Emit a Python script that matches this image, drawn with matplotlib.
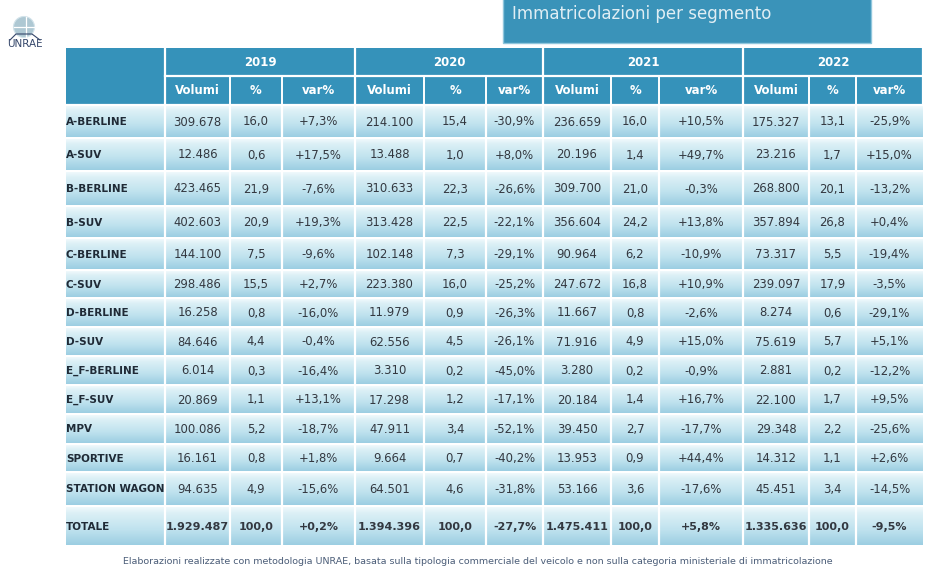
import numpy as np
import matplotlib
matplotlib.use("Agg")
import matplotlib.pyplot as plt
from matplotlib import font_manager
from matplotlib.patches import Rectangle, Circle
from matplotlib.colors import LinearSegmentedColormap

# ---------------- data ----------------
segments = ["A-BERLINE", "A-SUV", "B-BERLINE", "B-SUV", "C-BERLINE", "C-SUV",
            "D-BERLINE", "D-SUV", "E_F-BERLINE", "E_F-SUV", "MPV", "SPORTIVE",
            "STATION WAGON"]
years = ["2019", "2020", "2021", "2022"]
sub_headers = ["Volumi", "%", "var%"]

vol_2019 = [309678, 12486, 423465, 402603, 144100, 298486, 16258, 84646, 6014, 20869, 100086, 16161, 94635]
pct_2019 = [16.0, 0.6, 21.9, 20.9, 7.5, 15.5, 0.8, 4.4, 0.3, 1.1, 5.2, 0.8, 4.9]
var_2019 = [7.3, 17.5, -7.6, 19.3, -9.6, 2.7, -16.0, -0.4, -16.4, 13.1, -18.7, 1.8, -15.6]

vol_2020 = [214100, 13488, 310633, 313428, 102148, 223380, 11979, 62556, 3310, 17298, 47911, 9664, 64501]
pct_2020 = [15.4, 1.0, 22.3, 22.5, 7.3, 16.0, 0.9, 4.5, 0.2, 1.2, 3.4, 0.7, 4.6]
var_2020 = [-30.9, 8.0, -26.6, -22.1, -29.1, -25.2, -26.3, -26.1, -45.0, -17.1, -52.1, -40.2, -31.8]

vol_2021 = [236659, 20196, 309700, 356604, 90964, 247672, 11667, 71916, 3280, 20184, 39450, 13953, 53166]
pct_2021 = [16.0, 1.4, 21.0, 24.2, 6.2, 16.8, 0.8, 4.9, 0.2, 1.4, 2.7, 0.9, 3.6]
var_2021 = [10.5, 49.7, -0.3, 13.8, -10.9, 10.9, -2.6, 15.0, -0.9, 16.7, -17.7, 44.4, -17.6]

vol_2022 = [175327, 23216, 268800, 357894, 73317, 239097, 8274, 75619, 2881, 22100, 29348, 14312, 45451]
pct_2022 = [13.1, 1.7, 20.1, 26.8, 5.5, 17.9, 0.6, 5.7, 0.2, 1.7, 2.2, 1.1, 3.4]
var_2022 = [-25.9, 15.0, -13.2, 0.4, -19.4, -3.5, -29.1, 5.1, -12.2, 9.5, -25.6, 2.6, -14.5]

tot_vol = [1929487, 1394396, 1475411, 1335636]
tot_pct = [100.0, 100.0, 100.0, 100.0]
tot_var = [0.2, -27.7, 5.8, -9.5]

title = "Immatricolazioni per segmento"
footer = ("Elaborazioni realizzate con metodologia UNRAE, basata sulla tipologia "
          "commerciale del veicolo e non sulla categoria ministeriale di immatricolazione")

# ---------------- layout (pixels) ----------------
col_edges = [66, 165, 230, 282, 355, 424, 486, 543, 611, 659, 743, 809, 856, 923]
row_edges = [105, 138, 171, 206, 238, 270, 298, 327, 356, 385, 414, 444, 472, 506, 546]
head_top, head_mid, head_bot = 48, 76, 104

header_blue = "#3592ba"
text_dark = "#333840"

names = {f.name for f in font_manager.fontManager.ttflist}
if "Liberation Sans Narrow" in names:
    narrow = "Liberation Sans Narrow"
    fs_num, fs_tot, fs_lab, fs_head, fs_foot = 10, 10, 10, 10, 9
else:
    narrow = "DejaVu Sans"
    fs_num, fs_tot, fs_lab, fs_head, fs_foot = 8.4, 8, 7.5, 8.5, 6.8


def fmt_int(v):
    return f"{v:,}".replace(",", ".")


def fmt_pct(v):
    return f"{v:.1f}".replace(".", ",")


def fmt_var(v):
    s = f"{v:+.1f}".replace(".", ",")
    return s + "%"


fig = plt.figure(figsize=(9.33, 5.71), dpi=100)
ax = fig.add_axes([0, 0, 1, 1])

# title box
ax.add_patch(Rectangle((503, -2), 368, 45, facecolor="#3a93b9", edgecolor="#8fc6dc", lw=1))
ax.text(512, 14, title, color="#e0eef4", fontsize=12, family="DejaVu Sans",
        va="center", ha="left")

# logo
ax.add_patch(Circle((24, 27), 10.5, facecolor="#aec8d3", edgecolor="#d3e3ea", lw=0.8))
ax.plot([14, 34], [27, 27], color="white", lw=0.9)
ax.plot([26, 26], [17, 37], color="white", lw=0.9)
ax.plot([10, 16, 32, 40], [40, 34, 34, 40], color="#34466a", lw=0.8)
ax.text(25, 44, "UNRAE", color="#34466a", fontsize=7.5, family="DejaVu Sans",
        ha="center", va="center")

# header
ax.add_patch(Rectangle((col_edges[0], head_top), col_edges[-1] - col_edges[0],
                       head_bot - head_top, facecolor=header_blue, edgecolor="none"))
group_edges = col_edges[1::3]
for x in group_edges:
    ax.plot([x, x], [head_top, head_bot], color="white", lw=1.6)
for x in col_edges[1:-1]:
    ax.plot([x, x], [head_mid, head_bot], color="white", lw=1.4)
ax.plot([col_edges[1], col_edges[-1]], [head_mid, head_mid], color="white", lw=1.6)
ax.plot([col_edges[0], col_edges[-1]], [head_bot + 0.5, head_bot + 0.5], color="white", lw=1.6)

for g, yr in enumerate(years):
    x0, x1 = col_edges[1 + 3 * g], col_edges[4 + 3 * g]
    ax.text((x0 + x1) / 2, (head_top + head_mid) / 2 + 1, yr, color="white",
            fontsize=fs_head, fontweight="bold", family=narrow, ha="center", va="center")
    for k, sh in enumerate(sub_headers):
        c0, c1 = col_edges[1 + 3 * g + k], col_edges[2 + 3 * g + k]
        ax.text((c0 + c1) / 2, (head_mid + head_bot) / 2 + 1, sh, color="white",
                fontsize=fs_head, fontweight="bold", family=narrow, ha="center", va="center")

# data rows with gradient
cmap = LinearSegmentedColormap.from_list(
    "cell", [(0, "#f0f9fc"), (0.15, "#dcf0f6"), (0.6, "#bfe2ee"), (1, "#9ccee2")])
grad = np.linspace(0, 1, 64).reshape(-1, 1)

vols = [vol_2019, vol_2020, vol_2021, vol_2022]
pcts = [pct_2019, pct_2020, pct_2021, pct_2022]
vars_ = [var_2019, var_2020, var_2021, var_2022]

n_rows = len(segments) + 1
for r in range(n_rows):
    y0, y1 = row_edges[r] + 1, row_edges[r + 1] - 1
    ax.imshow(grad, extent=(col_edges[0], col_edges[-1], y1, y0), aspect="auto",
              cmap=cmap, interpolation="bilinear", zorder=1)
    yc = (y0 + y1) / 2 + 0.5
    if r < len(segments):
        label = segments[r]
        cells = []
        for g in range(4):
            cells += [fmt_int(vols[g][r]), fmt_pct(pcts[g][r]), fmt_var(vars_[g][r])]
        weight, fs = "normal", fs_num
    else:
        label = "TOTALE"
        cells = []
        for g in range(4):
            cells += [fmt_int(tot_vol[g]), fmt_pct(tot_pct[g]), fmt_var(tot_var[g])]
        weight, fs = "bold", fs_tot
    ax.text(col_edges[0], yc, label, color="#1f2a36", fontsize=fs_lab, fontweight="bold",
            family=narrow, ha="left", va="center", zorder=3)
    for c, txt in enumerate(cells):
        xc = (col_edges[c + 1] + col_edges[c + 2]) / 2
        ax.text(xc, yc, txt, color=text_dark, fontsize=fs, fontweight=weight,
                family=narrow, ha="center", va="center", zorder=3)

for x in col_edges[1:-1]:
    ax.plot([x, x], [row_edges[0], row_edges[-1]], color="white", lw=1.6, zorder=2)

# footer
ax.text(478, 561, footer, color="#4b5d78", fontsize=fs_foot, family=narrow,
        ha="center", va="center")

ax.set_xlim(0, 933)
ax.set_ylim(571, 0)
ax.axis("off")
fig.savefig("out.png", dpi=100)
